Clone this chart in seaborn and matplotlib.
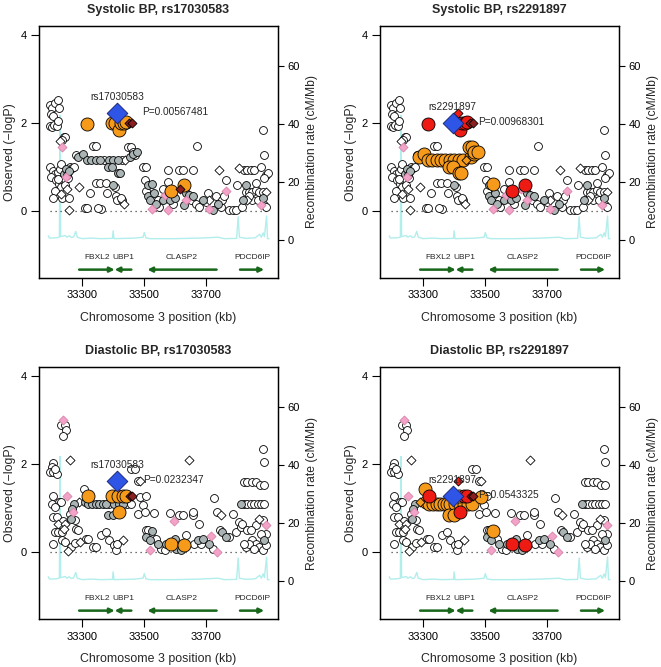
import numpy as np
import pandas as pd
import matplotlib
matplotlib.use("Agg")
import matplotlib.pyplot as plt
import seaborn as sns

# ---- systolic BP: SNP positions (kb), -log10 P, marker, LD class per index SNP
sys_kb = [33195, 33203, 33212, 33220, 33226, 33198, 33206, 33196, 33203, 33210,
          33218, 33222, 33228, 33234, 33240, 33245, 33236, 33197, 33205, 33212,
          33200, 33220, 33228, 33232, 33215, 33225, 33230, 33240, 33248, 33252,
          33258, 33262, 33268, 33246, 33245, 33250, 33212, 33206, 33232, 33236,
          33256, 33258, 33222, 33255, 33272, 33287, 33303, 33316, 33280, 33335,
          33346, 33330, 33345, 33357, 33370, 33387, 33400, 33416, 33430, 33440,
          33454, 33464, 33384, 33398, 33416, 33421, 33448, 33459, 33466, 33476,
          33470, 33317, 33395, 33405, 33413, 33419, 33425, 33434, 33443, 33452,
          33460, 33288, 33325, 33346, 33357, 33376, 33381, 33309, 33316, 33362,
          33405, 33409, 33413, 33430, 33434, 33427, 33400, 33350, 33497, 33507,
          33503, 33513, 33527, 33505, 33513, 33518, 33529, 33534, 33540, 33527,
          33550, 33545, 33561, 33572, 33577, 33577, 33583, 33593, 33588, 33567,
          33577, 33615, 33626, 33629, 33617, 33636, 33647, 33636, 33631, 33653,
          33658, 33672, 33669, 33679, 33690, 33706, 33709, 33712, 33722, 33733,
          33744, 33748, 33754, 33765, 33765, 33776, 33787, 33798, 33800, 33808,
          33817, 33825, 33835, 33846, 33857, 33878, 33884, 33889, 33894, 33900,
          33889, 33830, 33830, 33841, 33851, 33862, 33873, 33884, 33894, 33862,
          33851, 33878, 33889, 33868, 33841, 33835, 33820, 33884, 33894, 33560,
          33600, 33660, 33700, 33740, 33760]
sys_logp = [2.40, 2.33, 2.45, 2.52, 2.33, 2.20, 2.15, 1.93, 1.90, 1.95,
            1.92, 2.05, 1.60, 1.45, 1.68, 1.68, 1.62, 1.00, 0.90, 0.85,
            0.78, 0.88, 0.95, 1.07, 0.70, 0.62, 0.55, 0.85, 0.95, 0.82,
            0.90, 1.00, 0.98, 0.78, 0.60, 0.50, 0.45, 0.29, 0.38, 0.30,
            0.30, 0.02, 0.72, 0.75, 1.00, 1.23, 1.30, 1.16, 1.27, 1.48,
            1.48, 1.16, 1.16, 1.16, 1.16, 1.16, 1.16, 1.16, 1.16, 1.16,
            1.23, 1.30, 1.00, 1.00, 0.86, 0.86, 1.46, 1.46, 1.35, 1.35,
            1.28, 1.98, 2.00, 2.00, 2.23, 1.84, 2.00, 2.00, 2.01, 2.00,
            2.00, 0.55, 0.40, 0.63, 0.63, 0.63, 0.40, 0.06, 0.06, 0.04,
            0.55, 0.33, 0.26, 0.25, 0.17, 0.29, 0.60, 0.07, 1.00, 1.00,
            0.70, 0.59, 0.61, 0.46, 0.33, 0.25, 0.29, 0.40, 0.17, 0.04,
            0.10, 0.25, 0.25, 0.33, 0.67, 0.93, 0.25, 0.17, 0.46, 0.36,
            0.02, 0.93, 0.93, 0.58, 0.51, 0.40, 0.36, 0.25, 0.14, 0.25,
            0.93, 1.48, 0.17, 0.10, 0.25, 0.40, 0.26, 0.04, 0.02, 0.33,
            0.93, 0.10, 0.25, 0.70, 0.45, 0.02, 0.02, 0.02, 0.59, 0.97,
            0.10, 0.93, 0.93, 0.93, 0.93, 1.00, 1.84, 1.27, 0.82, 0.86,
            0.74, 0.59, 0.44, 0.44, 0.44, 0.48, 0.44, 0.44, 0.44, 0.63,
            0.25, 0.14, 0.14, 0.25, 0.33, 0.25, 0.25, 0.29, 0.10, 0.50,
            0.30, 0.35, 0.20, 0.15, 0.35]
sys_marker = ("oooooooooo ooDDoooooo oooooooooo oooDoDooDo oDoooooooo "
              "oooooooooD oooooooooo ooooDooooD DDoooooooo ooooDooooo "
              "oooooooooD oooooooooD DoooDooDoo ooooooDDoo DoooDooooD "
              "oooooooooo ooooooooDo oDoooDoooo ooooo")
sys_ld_rs17030583 = ("wwwwwwwwww wwwpwwwwww wwwwwwwggg gwwpwwwwww wwwwwgggww "
                     "wgggwgggww ggggggwwwg woooxooood dwwwwwwwww wwwwwwgwww "
                     "wggwggwggp wwgwwwgwop pwwodggpgw wwwwgwwpgw wwwwpwwwww "
                     "wwwwwwwwww wgwwwwwwww wpwwwwggww ggwgw")
sys_ld_rs2291897 = ("wwwwwwwwww wwwpwwwwww wwwwwwwggg gwwpwwwwww wwwwwoooww "
                    "wooooooooo oooooooooo wrxrrrrrrd dwwwwwwwww wwwwwwgwww "
                    "wgowggwggp wwgwwwgwrp pwwrpggpgw wwwwgwwpgw wwwwpwwwww "
                    "wwwwwwwwww wgwwwwwwww wpwwwwggww ggwgw")

# ---- diastolic BP
dia_kb = [33239, 33231, 33244, 33247, 33237, 33260, 33206, 33201, 33196, 33204,
          33219, 33211, 33206, 33225, 33231, 33201, 33211, 33251, 33273, 33267,
          33262, 33270, 33265, 33275, 33206, 33217, 33222, 33211, 33222, 33233,
          33239, 33244, 33241, 33206, 33233, 33244, 33255, 33265, 33280, 33287,
          33278, 33305, 33319, 33309, 33319, 33290, 33333, 33344, 33355, 33366,
          33376, 33387, 33403, 33419, 33432, 33446, 33457, 33395, 33416, 33432,
          33443, 33414, 33418, 33454, 33462, 33384, 33400, 33459, 33470, 33481,
          33488, 33486, 33292, 33312, 33320, 33335, 33346, 33360, 33378, 33387,
          33403, 33408, 33432, 33411, 33481, 33497, 33505, 33502, 33507, 33527,
          33507, 33518, 33524, 33513, 33518, 33534, 33545, 33556, 33567, 33572,
          33583, 33596, 33588, 33604, 33615, 33626, 33629, 33620, 33636, 33647,
          33658, 33658, 33663, 33674, 33679, 33685, 33712, 33717, 33722, 33728,
          33738, 33738, 33749, 33754, 33765, 33776, 33787, 33798, 33808, 33814,
          33819, 33825, 33835, 33851, 33862, 33876, 33889, 33884, 33889, 33814,
          33825, 33835, 33846, 33857, 33868, 33878, 33889, 33873, 33862, 33835,
          33846, 33884, 33894, 33894, 33878, 33851, 33862, 33873, 33884, 33830,
          33841, 33857, 33894, 33825, 33889, 33540, 33600, 33690, 33745]
dia_logp = [3.00, 2.88, 2.88, 2.78, 2.64, 2.10, 2.02, 1.93, 1.82, 1.82,
            1.78, 1.89, 1.27, 1.14, 1.14, 1.10, 1.02, 1.27, 1.10, 0.98,
            0.87, 0.92, 0.76, 0.73, 0.80, 0.80, 0.64, 0.45, 0.45, 0.45,
            0.70, 0.64, 0.53, 0.19, 0.27, 0.23, 0.02, 0.11, 0.53, 0.49,
            0.21, 1.44, 1.27, 1.14, 1.10, 1.14, 1.10, 1.10, 1.10, 1.10,
            1.10, 1.10, 1.10, 1.10, 1.10, 1.10, 1.10, 1.27, 1.27, 1.27,
            1.27, 1.62, 0.91, 1.27, 1.27, 0.83, 0.83, 1.89, 1.89, 1.61,
            1.61, 1.25, 0.23, 0.30, 0.30, 0.11, 0.11, 0.38, 0.45, 0.27,
            0.15, 0.04, 0.27, 0.19, 0.87, 1.06, 1.27, 0.91, 0.49, 0.47,
            0.34, 0.27, 0.34, 0.49, 0.04, 0.89, 0.19, 0.08, 0.04, 0.19,
            0.89, 0.70, 0.19, 0.08, 0.83, 0.83, 0.17, 0.04, 0.38, 2.08,
            0.83, 0.91, 0.19, 0.27, 0.64, 0.19, 0.19, 0.36, 0.08, 1.23,
            0.91, 0.00, 0.83, 0.45, 0.34, 0.34, 0.87, 0.45, 0.68, 0.57,
            0.64, 1.59, 1.59, 1.59, 1.59, 1.52, 1.52, 2.35, 2.05, 1.10,
            1.10, 1.10, 1.10, 1.10, 1.10, 1.10, 1.10, 0.76, 0.61, 0.49,
            0.49, 0.72, 0.61, 0.42, 0.42, 0.27, 0.19, 0.11, 0.04, 0.11,
            0.19, 0.08, 0.15, 0.19, 0.27, 0.30, 0.30, 0.30, 0.50]
dia_marker = ("DooooDoooo oooooooDoo oDooooDooo oDDoooDooo oooooDoooo "
              "oooooooooo oDoDDooooo DoDooooooo ooDooooooo ooooDooooo "
              "oDoooooooD oooooooDoo oDDooooooo oooooooooo oooooooDoo "
              "ooDooooooo ooooooooo")
dia_ld_rs17030583 = ("pwwwwwwwww wwwwwwwpgg wpgwwwwwww wwwwwwwwww wwoggwgggg "
                     "gwgggwwooo oxoddggwww wwwwwwwwww wwwwwwwwwg ggwwpwgwwg "
                     "wpogwwogww wwwgwwgpww wpwggwwwww wwwwwwwwwg wwwwwwwwww "
                     "wwpwwwwwww wwwwgwggw")
dia_ld_rs2291897 = ("pwwwwwwwww wwwwwwwpgg wpgwwwwwww wwwwwwwwww worooooooo "
                    "oooooooxor rrrddoowww wowwwwwwww wwwwwwwwwo ggwwpwgwwg "
                    "wprgwwrgww wwwgwwgpww wpwggwwwww wwwwwwwwwg wwwwwwwwww "
                    "wwpwwwwwww wwwwgwggw")

# ---- recombination rate (cM/Mb)
rec_kb = [33190, 33194, 33215, 33226, 33228, 33230, 33245, 33250, 33258, 33265,
          33272, 33279, 33284, 33300, 33330, 33360, 33398, 33400, 33403, 33440,
          33470, 33497, 33501, 33506, 33520, 33600, 33680, 33700, 33740, 33760,
          33800, 33805, 33809, 33830, 33860, 33875, 33880, 33886, 33890, 33897,
          33900, 33905]
rec_rate = [1.5, 0.7, 0.8, 1.0, 43.0, 1.2, 1.6, 1.0, 1.5, 0.9,
            1.1, 3.0, 1.0, 0.5, 0.7, 0.5, 0.6, 3.2, 0.5, 0.6,
            0.7, 1.0, 2.6, 0.8, 0.5, 0.5, 0.7, 0.8, 1.0, 0.5,
            0.6, 8.0, 1.0, 0.6, 0.8, 2.0, 1.0, 2.5, 1.2, 8.3,
            0.5, 0.5]

# ---- genes
gene_name = ["FBXL2", "UBP1", "CLASP2", "PDCD6IP"]
gene_start = [33290, 33459, 33735, 33811]
gene_end = [33405, 33405, 33511, 33889]

panel_title = ["Systolic BP, rs17030583", "Systolic BP, rs2291897",
               "Diastolic BP, rs17030583", "Diastolic BP, rs2291897"]
panel_snp = ["rs17030583", "rs2291897", "rs17030583", "rs2291897"]
panel_pval = ["P=0.00567481", "P=0.00968301", "P=0.0232347", "P=0.0543325"]

LD_COLORS = {"w": "#ffffff", "g": "#abb4b4", "p": "#f4a3c8", "o": "#f59a1a",
             "r": "#ee1a14", "d": "#8c1f1f", "x": "#2f55e6"}
DRAW_ORDER = ["w", "g", "p", "o", "r", "d"]


def make_frame(kb, logp, marker, ld):
    return pd.DataFrame({"kb": kb, "logp": logp,
                         "marker": list(marker.replace(" ", "")),
                         "ld": list(ld.replace(" ", ""))})


frames = [make_frame(sys_kb, sys_logp, sys_marker, sys_ld_rs17030583),
          make_frame(sys_kb, sys_logp, sys_marker, sys_ld_rs2291897),
          make_frame(dia_kb, dia_logp, dia_marker, dia_ld_rs17030583),
          make_frame(dia_kb, dia_logp, dia_marker, dia_ld_rs2291897)]

sns.set_theme(style="ticks")
plt.rcParams["font.family"] = ["Liberation Sans", "DejaVu Sans"]
plt.rcParams["axes.edgecolor"] = "black"
plt.rcParams["xtick.color"] = "black"
plt.rcParams["ytick.color"] = "black"

fig = plt.figure(figsize=(6.61, 6.67), dpi=100)

W, H = 661.0, 667.0
boxes = [(39, 26), (380, 26), (39, 367), (380, 367)]
bw, bh = 239, 252

# recombination axis aligned so that 0 cM/Mb sits at -logP = -0.66
Y0, K = -0.66, 15.2
YLIM = (-1.52, 4.2)

for i, df in enumerate(frames):
    x0, y0 = boxes[i]
    ax = fig.add_axes([x0 / W, 1 - (y0 + bh) / H, bw / W, bh / H])
    ax2 = ax.twinx()
    ax.set_zorder(ax2.get_zorder() + 1)
    ax.patch.set_visible(False)

    sns.lineplot(x=rec_kb, y=rec_rate, ax=ax2, color="#b2eeec", lw=1.0,
                 estimator=None, sort=False)
    ax2.set_ylim((YLIM[0] - Y0) * K, (YLIM[1] - Y0) * K)
    ax2.set_yticks([0, 20, 40, 60])
    ax2.set_ylabel("Recombination rate (cM/Mb)", fontsize=8.7, labelpad=4)
    ax2.tick_params(axis="y", direction="out", length=4, width=0.8,
                    labelsize=8, pad=3)

    # dotted zero line across the SNP range
    ax.plot([df["kb"].min(), df["kb"].max()], [0, 0], ls=(0, (1, 3)),
            color="#444444", lw=0.9, zorder=1)

    for code in DRAW_ORDER:
        for mk in ["o", "D"]:
            sub = df[(df["ld"] == code) & (df["marker"] == mk)]
            if sub.empty:
                continue
            if mk == "o":
                size = 88 if code in ("o", "r") else 32
            else:
                size = 21
            edge = "black"
            if code == "p":
                edge = "#d884aa"
            sns.scatterplot(data=sub, x="kb", y="logp", ax=ax, marker=mk,
                            s=size, color=LD_COLORS[code], edgecolor=edge,
                            linewidth=0.6, legend=False, zorder=3)

    idx = df[df["ld"] == "x"].iloc[0]
    sns.scatterplot(x=[idx["kb"]], y=[idx["logp"]], ax=ax, marker="D", s=110,
                    color=LD_COLORS["x"], edgecolor="#1a2a80", linewidth=0.7,
                    legend=False, zorder=5)
    ax.text(idx["kb"], idx["logp"] + 0.36, panel_snp[i], ha="center",
            va="center", fontsize=7.3, zorder=6)
    ax.text(idx["kb"] + 82, idx["logp"] + 0.02, panel_pval[i], ha="left",
            va="center", fontsize=7.3, zorder=6)

    # gene track
    for name, g0, g1 in zip(gene_name, gene_start, gene_end):
        ax.annotate("", xy=(g1, -1.33), xytext=(g0, -1.33),
                    arrowprops=dict(arrowstyle="-|>", color="#17661a", lw=1.8,
                                    mutation_scale=7, shrinkA=0, shrinkB=0))
        ax.text((g0 + g1) / 2, -1.06, name, ha="center", va="center",
                fontsize=6)

    ax.set_xlim(33160, 33934)
    ax.set_ylim(*YLIM)
    ax.set_xticks([33300, 33500, 33700])
    ax.set_yticks([0, 2, 4])
    ax.tick_params(axis="both", direction="out", length=6, width=0.8,
                   labelsize=8, pad=3)
    ax.set_xlabel("Chromosome 3 position (kb)", fontsize=8.9, labelpad=8)
    ax.set_ylabel("Observed (\u2212logP)", fontsize=8.9, labelpad=3)
    ax.set_title(panel_title[i], fontsize=9, fontweight="bold", pad=9)
    for a in (ax, ax2):
        for sp in a.spines.values():
            sp.set_linewidth(0.9)
            sp.set_color("black")

fig.savefig("out.png", dpi=100)
